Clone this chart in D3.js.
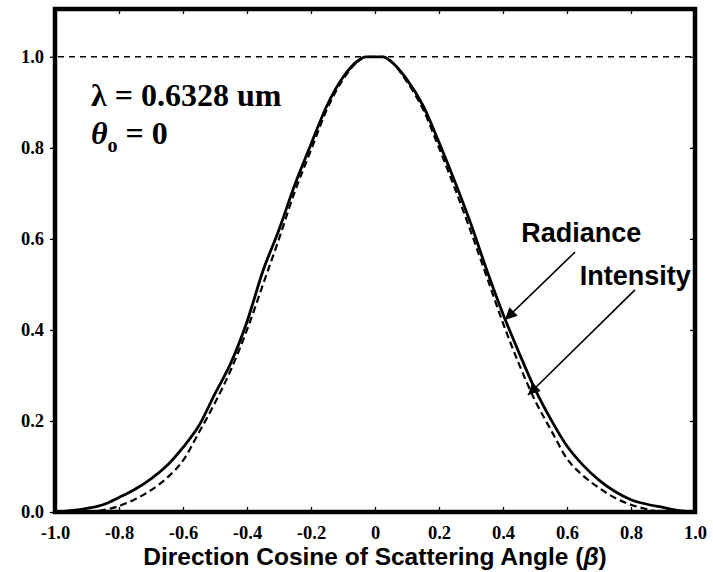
<!DOCTYPE html>
<html><head><meta charset="utf-8">
<script src="https://cdn.jsdelivr.net/npm/d3@7/dist/d3.min.js"></script>
<style>body{margin:0;background:#fff}svg{display:block}</style>
</head><body>
<script>
const xValues = [-1.0,-0.95,-0.9,-0.85,-0.8,-0.75,-0.7,-0.65,-0.6,-0.55,-0.5,-0.45,-0.4,-0.35,-0.3,-0.25,-0.2,-0.15,-0.1,-0.05,-0.03,0,0.025,0.05,0.1,0.15,0.2,0.25,0.3,0.35,0.4,0.45,0.5,0.55,0.6,0.65,0.7,0.75,0.8,0.85,0.9,0.95,1.0];
const radiance = [0,0.003,0.008,0.016,0.032,0.05,0.073,0.102,0.142,0.19,0.26,0.328,0.418,0.53,0.62,0.72,0.808,0.893,0.955,0.993,1.0,1.0,1.0,0.99,0.95,0.893,0.812,0.725,0.632,0.53,0.435,0.35,0.27,0.203,0.145,0.103,0.07,0.045,0.027,0.017,0.01,0.003,0];
const intensity = [0,0,0,0.004,0.013,0.028,0.048,0.075,0.113,0.175,0.24,0.313,0.4,0.5,0.6,0.705,0.795,0.885,0.95,0.992,1.0,1.0,1.0,0.99,0.945,0.885,0.8,0.71,0.615,0.515,0.415,0.325,0.245,0.18,0.117,0.08,0.053,0.031,0.016,0.006,0,0,0];
const xTicks = [-1.0,-0.8,-0.6,-0.4,-0.2,0,0.2,0.4,0.6,0.8,1.0];
const xTickLabels = ["-1.0","-0.8","-0.6","-0.4","-0.2","0","0.2","0.4","0.6","0.8","1.0"];
const yTicks = [0,0.2,0.4,0.6,0.8,1.0];
const yTickLabels = ["0.0","0.2","0.4","0.6","0.8","1.0"];
const refLevel = 1.0;
const labels = [
  {text:"Radiance", x:0.457, y:0.593, ax:0.625, ay:0.571, tx:0.406, ty:0.422},
  {text:"Intensity", x:0.64, y:0.499, ax:0.8125, ay:0.488, tx:0.478, ty:0.257}
];

(function(){
const W = 713, H = 572;
const svg = d3.select("body").append("svg").attr("width", W).attr("height", H);
const x = d3.scaleLinear().domain([-1, 1]).range([55, 695]);
const y = d3.scaleLinear().domain([0, 1.105]).range([512, 9]);

const defs = svg.append("defs");
defs.append("clipPath").attr("id","clip").append("rect")
  .attr("x", x(-1)).attr("y", y(1.105)).attr("width", x(1)-x(-1)).attr("height", y(0)-y(1.105));
defs.append("marker").attr("id","arrow").attr("viewBox","0 0 10 10").attr("refX",10).attr("refY",5)
  .attr("markerWidth",16).attr("markerHeight",12).attr("markerUnits","userSpaceOnUse").attr("orient","auto")
  .append("path").attr("d","M0,0 L10,5 L0,10 Z").attr("fill","#000");

const serif = "'Liberation Serif','Times New Roman',serif";
const sans = "'Liberation Sans',Arial,sans-serif";

const axB = d3.axisBottom(x).tickValues(xTicks).tickSize(-5).tickFormat((d,i)=>xTickLabels[i]).tickPadding(14);
const axT = d3.axisTop(x).tickValues(xTicks).tickSize(-5).tickFormat("");
const axL = d3.axisLeft(y).tickValues(yTicks).tickSize(5).tickFormat((d,i)=>yTickLabels[i]).tickPadding(6);
const axR = d3.axisRight(y).tickValues(yTicks).tickSize(-5).tickFormat("");

function style(g){
  g.select(".domain").remove();
  g.selectAll(".tick line").attr("stroke","#000").attr("stroke-width",1.3);
  g.selectAll(".tick text").attr("fill","#000").attr("font-family",serif).attr("font-weight","bold").attr("font-size",18.5);
}
svg.append("g").attr("transform",`translate(0,${y(0)})`).call(axB).call(style);
svg.append("g").attr("transform",`translate(0,${y(1.105)})`).call(axT).call(style);
svg.append("g").attr("transform",`translate(${x(-1)},0)`).call(axL).call(style);
svg.append("g").attr("transform",`translate(${x(1)},0)`).call(axR).call(style);

svg.append("line").attr("x1",x(-1)+3).attr("x2",x(1)-2).attr("y1",y(refLevel)).attr("y2",y(refLevel))
  .attr("stroke","#000").attr("stroke-width",1.4).attr("stroke-dasharray","6,5");

const line = d3.line().x((d,i)=>x(xValues[i])).y(d=>y(d)).curve(d3.curveMonotoneX);
const plot = svg.append("g").attr("clip-path","url(#clip)");
plot.append("path").datum(intensity).attr("d",line).attr("fill","none").attr("stroke","#000")
  .attr("stroke-width",2.2).attr("stroke-dasharray","7,4");
plot.append("path").datum(radiance).attr("d",line).attr("fill","none").attr("stroke","#000")
  .attr("stroke-width",2.8).attr("stroke-linejoin","round");

svg.append("rect").attr("x",x(-1)).attr("y",y(1.105)).attr("width",x(1)-x(-1)).attr("height",y(0)-y(1.105))
  .attr("fill","none").attr("stroke","#000").attr("stroke-width",4.5);

const ann = svg.append("g").attr("font-family",serif).attr("font-weight","bold").attr("font-size",32).attr("fill","#000");
ann.append("text").attr("x",x(-0.8875)).attr("y",y(0.892)).text("λ = 0.6328 um");
const t2 = ann.append("text").attr("x",x(-0.8875)).attr("y",y(0.808));
t2.append("tspan").attr("font-style","italic").text("θ");
t2.append("tspan").attr("font-size",20).attr("dy",8).text("o");
t2.append("tspan").attr("dy",-8).text(" = 0");

labels.forEach(l=>{
  svg.append("text").attr("x",x(l.x)).attr("y",y(l.y)).attr("font-family",sans).attr("font-weight","bold")
    .attr("font-size",27).attr("fill","#000").text(l.text);
  svg.append("line").attr("x1",x(l.ax)).attr("y1",y(l.ay)).attr("x2",x(l.tx)).attr("y2",y(l.ty))
    .attr("stroke","#000").attr("stroke-width",1.6).attr("marker-end","url(#arrow)");
});

const title = svg.append("text").attr("x",(x(-1)+x(1))/2).attr("y",565).attr("text-anchor","middle")
  .attr("font-family",sans).attr("font-weight","bold").attr("font-size",24.5).attr("fill","#000");
title.append("tspan").text("Direction Cosine of Scattering Angle (");
title.append("tspan").attr("font-style","italic").text("β");
title.append("tspan").text(")");
})();
</script>
</body></html>
